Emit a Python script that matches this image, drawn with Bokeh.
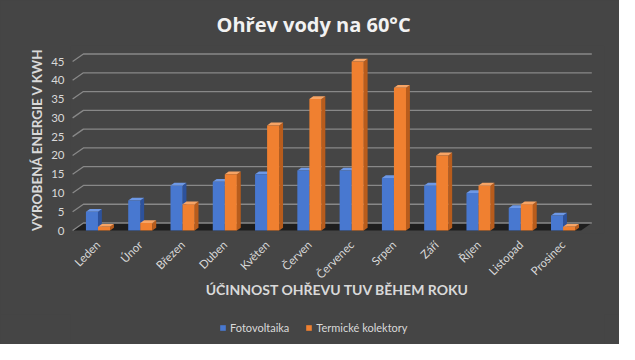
import math
from bokeh.plotting import figure
from bokeh.layouts import column
from bokeh.models import Range1d, FixedTicker, Legend, LegendItem
from bokeh.embed import file_html
from bokeh.resources import INLINE

months = ["Leden", "Únor", "Březen", "Duben", "Květen", "Červen", "Červenec",
          "Srpen", "Září", "Říjen", "Listopad", "Prosinec"]
fotovoltaika = [5, 8, 12, 13, 15, 16, 16, 14, 12, 10, 6, 4]
termicke = [1, 2, 7, 15, 28, 35, 45, 38, 20, 12, 7, 1]
y_ticks = [0, 5, 10, 15, 20, 25, 30, 35, 40, 45]
series_names = ["Fotovoltaika", "Termické kolektory"]

BG = "#454545"
TXT = "#d9d9d9"
BLUE, BLUE_SIDE, BLUE_TOP = "#4878d0", "#2d529c", "#6d98e6"
ORANGE, ORANGE_SIDE, ORANGE_TOP = "#f08030", "#b85c1c", "#f7a465"

p = figure(width=619, height=314, output_backend="svg", toolbar_location=None,
           x_range=Range1d(-0.65, 11.98), y_range=Range1d(-0.79, 49.27),
           min_border_left=70, min_border_right=15, min_border_top=42,
           min_border_bottom=81)
p.background_fill_alpha = 0
p.border_fill_color = BG
p.outline_line_color = None
p.xgrid.visible = False
p.ygrid.visible = False

# 3D geometry (in data units)
n = len(months)
wall_dx, wall_dy = 0.255, 2.0
bar_dx, bar_dy = 0.092, 0.75
bw = 0.285
left_front = -0.60
right_back = 11.68
right_front = right_back - wall_dx

# floor
p.patch([left_front, right_front, right_back, left_front + wall_dx],
        [0, 0, wall_dy, wall_dy], fill_color="#1e1e1e", line_color=None)

# back-wall grid lines with the left diagonals
gxs, gys = [], []
for v in y_ticks:
    gxs.append([left_front, left_front + wall_dx, right_back])
    gys.append([v, v + wall_dy, v + wall_dy])
p.multi_line(gxs, gys, line_color="#888888", line_width=1.3)


def bar_parts(values, offset):
    x0 = [i + offset for i in range(n)]
    x1 = [x + bw for x in x0]
    sides_x = [[b, b + bar_dx, b + bar_dx, b] for b in x1]
    sides_y = [[0, bar_dy, h + bar_dy, h] for h in values]
    tops_x = [[a, b, b + bar_dx, a + bar_dx] for a, b in zip(x0, x1)]
    tops_y = [[h, h, h + bar_dy, h + bar_dy] for h in values]
    return x0, x1, sides_x, sides_y, tops_x, tops_y


series = [(fotovoltaika, -bw, BLUE, BLUE_SIDE, BLUE_TOP),
          (termicke, 0.0, ORANGE, ORANGE_SIDE, ORANGE_TOP)]
for vals, off, front, side, top in series:
    x0, x1, sx, sy, tx, ty = bar_parts(vals, off)
    p.patches(sx, sy, fill_color=side, line_color=None)
    p.patches(tx, ty, fill_color=top, line_color=None)
    p.quad(left=x0, right=x1, bottom=[0] * n, top=vals,
           fill_color=front, line_color=None)

# axes
p.xaxis.ticker = FixedTicker(ticks=list(range(n)))
p.xaxis.major_label_overrides = {i: m for i, m in enumerate(months)}
p.xaxis.major_label_orientation = math.pi / 4
p.xaxis.axis_line_color = None
p.xaxis.major_tick_line_color = None
p.xaxis.minor_tick_line_color = None
p.xaxis.major_label_text_color = TXT
p.xaxis.major_label_text_font = "Lato"
p.xaxis.major_label_text_font_size = "11.5px"
p.xaxis.major_label_standoff = 3
p.xaxis.axis_label = "ÚČINNOST OHŘEVU TUV BĚHEM ROKU"
p.xaxis.axis_label_text_color = TXT
p.xaxis.axis_label_text_font = "Lato"
p.xaxis.axis_label_text_font_style = "bold"
p.xaxis.axis_label_text_font_size = "14px"
p.xaxis.axis_label_standoff = -7

p.yaxis.ticker = FixedTicker(ticks=y_ticks)
p.yaxis.axis_line_color = None
p.yaxis.major_tick_line_color = None
p.yaxis.minor_tick_line_color = None
p.yaxis.major_label_text_color = TXT
p.yaxis.major_label_text_font = "Lato"
p.yaxis.major_label_text_font_size = "11.5px"
p.yaxis.major_label_standoff = 0
p.yaxis.axis_label = "VYROBENÁ ENERGIE V KWH"
p.yaxis.axis_label_text_color = TXT
p.yaxis.axis_label_text_font = "Lato"
p.yaxis.axis_label_text_font_style = "bold"
p.yaxis.axis_label_text_font_size = "13.5px"
p.yaxis.axis_label_standoff = 3

p.title.text = "Ohřev vody na 60°C"
p.title.align = "left"
p.title.offset = 146
p.title.text_color = "#f2f2f2"
p.title.text_font = "Open Sans"
p.title.text_font_style = "bold"
p.title.text_font_size = "20px"
p.title.standoff = 16

# legend strip underneath (hidden copies of the series supply the swatches)
lp = figure(width=619, height=30, output_backend="svg", toolbar_location=None,
            x_range=Range1d(-0.65, 11.98), y_range=Range1d(-0.79, 49.27),
            x_axis_type=None, y_axis_type=None,
            min_border_left=70, min_border_right=15, min_border_top=0,
            min_border_bottom=0)
lp.background_fill_alpha = 0
lp.border_fill_color = BG
lp.outline_line_color = None
lp.grid.visible = False
items = []
for name, (vals, off, front, side, top) in zip(series_names, series):
    x0, x1, *_ = bar_parts(vals, off)
    r = lp.quad(left=x0, right=x1, bottom=[0] * n, top=vals,
                fill_color=front, line_color=None, visible=False)
    items.append(LegendItem(label=name, renderers=[r]))
legend = Legend(items=items, orientation="horizontal", location=(149, 10))
legend.background_fill_alpha = 0
legend.border_line_color = None
legend.label_text_color = TXT
legend.label_text_font = "Lato"
legend.label_text_font_size = "11px"
legend.label_height = 12
legend.glyph_width = 7
legend.glyph_height = 7
legend.spacing = 16
legend.label_standoff = 4
legend.margin = 0
legend.padding = 1
lp.add_layout(legend)

layout = column(p, lp, spacing=0, styles={"background-color": BG})
open("out.html", "w").write(file_html(layout, INLINE))
